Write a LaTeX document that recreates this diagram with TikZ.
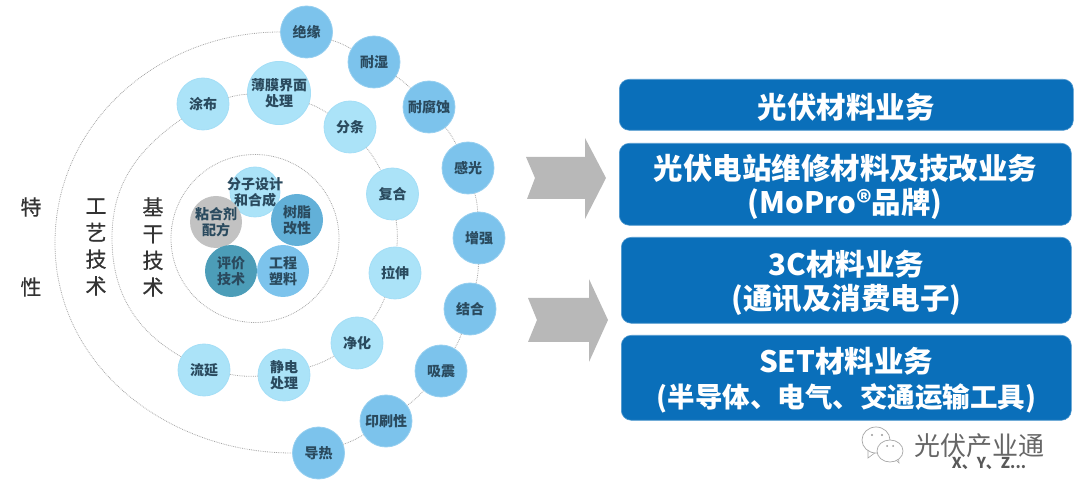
\documentclass[tikz,border=0pt]{standalone}
\usepackage{fontspec}
\setmainfont{Noto Sans CJK SC}
\newfontfamily\medfont[FakeBold=0.5]{Noto Sans CJK SC}
\usetikzlibrary{calc}
\definecolor{ringA}{HTML}{7CC3EC}
\definecolor{ringB}{HTML}{ABE3F8}
\definecolor{boxblue}{HTML}{0A6FBA}
\definecolor{txt}{HTML}{2A4A5E}
\definecolor{tealball}{HTML}{4C9DB8}
\definecolor{resinball}{HTML}{62B0D8}
\tikzset{
  x=1pt,y=-1pt,
  balltext/.style={font=\fontsize{14}{16}\selectfont\bfseries,text=txt,align=center,inner sep=0pt},
  ball/.style={circle,minimum size=52pt,balltext,line width=0.8pt},
  outerball/.style={ball,fill=ringA,draw=ringA!80!white},
  midball/.style={ball,fill=ringB,draw=ringB!85!ringA},
  ring/.style={draw=black!35,line width=0.8pt,densely dotted},
  bizbox/.style={rounded corners=10pt,fill=boxblue,draw=boxblue!70!white,line width=0.6pt,anchor=north west,inner sep=0pt},
  boxtext/.style={text=white,align=center,font=\fontsize{29.5}{34.5}\selectfont\bfseries,inner sep=0pt,yshift=-2.5pt},
  vlabel/.style={font=\fontsize{21}{26.7}\selectfont\medfont,text=black!80,align=center,inner sep=0pt},
  chev/.style={fill=black!28,draw=none},
}
\begin{document}
\begin{tikzpicture}
\useasboundingbox (0,0) rectangle (1080,494);
% inner ring
\draw[ring] (255,238.5) circle[radius=84];
% coordinates on the big arcs
\coordinate (outerL) at (55,243);
\coordinate (midL) at (112,238);
% outer balls
\node[outerball] (a1) at (306.5,32) {绝缘};
\node[outerball] (a2) at (374,62) {耐湿};
\node[outerball] (a3) at (429,107) {耐腐蚀};
\node[outerball] (a4) at (468,168) {感光};
\node[outerball] (a5) at (479,238) {增强};
\node[outerball] (a6) at (470,309) {结合};
\node[outerball] (a7) at (441,371) {吸震};
\node[outerball] (a8) at (386,421) {印刷性};
\node[outerball] (a9) at (318.5,453) {导热};
% mid balls
\node[midball] (b1) at (203,104) {涂布};
\node[midball] (b2) at (279,93) {薄膜界面\\处理};
\node[midball] (b3) at (350,127) {分条};
\node[midball] (b4) at (392.5,194) {复合};
\node[midball] (b5) at (395,273) {拉伸};
\node[midball] (b6) at (357,343) {净化};
\node[midball] (b7) at (284,375) {静电\\处理};
\node[midball] (b8) at (204,370) {流延};
% inner balls
\node[midball,minimum size=50pt] (c1) at (255,192) {};
\node[ball,fill=black!24] (c2) at (216,222) {};
\node[ball,fill=resinball] (c4) at (297,220) {};
\node[ball,fill=ringA] (c5) at (283,271) {};
\node[ball,fill=tealball] (c3) at (231,271) {};
\node[balltext] (t1) at (c1) {分子设计\\和合成};
\node[balltext] (t2) at (c2) {粘合剂\\配方};
\node[balltext] (t3) at (c3) {评价\\技术};
\node[balltext] (t4) at (c4) {树脂\\改性};
\node[balltext] (t5) at (c5) {工程\\塑料};
% connectors
\draw[ring] (a1) to[out=180,in=90] (outerL) to[out=-90,in=180] (a9);
\draw[ring] (a1) to[bend left=6] (a2);
\draw[ring] (a2) to[bend left=6] (a3);
\draw[ring] (a3) to[bend left=6] (a4);
\draw[ring] (a4) to[bend left=6] (a5);
\draw[ring] (a5) to[bend left=6] (a6);
\draw[ring] (a6) to[bend left=6] (a7);
\draw[ring] (a7) to[bend left=6] (a8);
\draw[ring] (a8) to[bend left=6] (a9);
\draw[ring] (b1) to[out=-145,in=90] (midL) to[out=-90,in=150] (b8);
\draw[ring] (b1) to[bend left=6] (b2);
\draw[ring] (b2) to[bend left=6] (b3);
\draw[ring] (b3) to[bend left=6] (b4);
\draw[ring] (b4) to[bend left=6] (b5);
\draw[ring] (b5) to[bend left=6] (b6);
\draw[ring] (b6) to[bend left=6] (b7);
\draw[ring] (b7) to[bend left=6] (b8);
% side labels
\node[vlabel] (s1) at (31,207) {特};
\node[vlabel] (s2) at (31,287) {性};
\node[vlabel] (g) at (96,247) {工\\艺\\技\\术};
\node[vlabel] (j) at (153,247) {基\\干\\技\\术};
% arrows
\fill[chev] (526,157)--(585,157)--(585,138)--(606,178)--(585,219)--(585,199)--(527,199)--(535,178)--cycle;
\fill[chev] (528,298)--(589,298)--(589,279)--(608,320)--(589,362)--(589,342)--(528,342)--(537,320)--cycle;
% boxes
\node[bizbox,minimum width=454pt,minimum height=51pt] (r1) at (619,79) {};
\node[bizbox,minimum width=452pt,minimum height=82pt] (r2) at (619,143) {};
\node[bizbox,minimum width=450pt,minimum height=86pt] (r3) at (621,237) {};
\node[bizbox,minimum width=450pt,minimum height=85pt] (r4) at (621,335) {};
\node[boxtext] (q1) at (r1) {光伏材料业务};
\node[boxtext] (q2) at (r2) {光伏电站维修材料及技改业务\\(MoPro®品牌)};
\node[boxtext] (q3) at (r3) {3C材料业务\\(通讯及消费电子)};
\node[boxtext] (q4) at (r4) {SET材料业务\\{\fontsize{27.5}{34.5}\selectfont (半导体、电气、交通运输工具)}};
% watermark
\fill[white,draw=black!35,line width=0.6pt] (868,450)--(868,458)--(876,452)--cycle;
\fill[white,draw=black!35,line width=0.6pt] (894,458)--(899,463)--(898,453)--cycle;
\draw[black!35,line width=0.7pt,fill=white] (876,440) ellipse[x radius=14,y radius=13];
\draw[black!35,line width=0.7pt,fill=white] (890,451) ellipse[x radius=13,y radius=11];
\fill[black!40] (872,435) circle[radius=1.2] (882,435) circle[radius=1.2] (887,446) circle[radius=1] (893,446) circle[radius=1];
\node[font=\fontsize{15}{15}\selectfont\bfseries,text=black!65] (wm2) at (989,463) {X、Y、Z...};
\node[font=\fontsize{26}{26}\selectfont,text=black!60,inner sep=0pt] (wm) at (979,446) {光伏产业通};
\end{tikzpicture}
\end{document}
